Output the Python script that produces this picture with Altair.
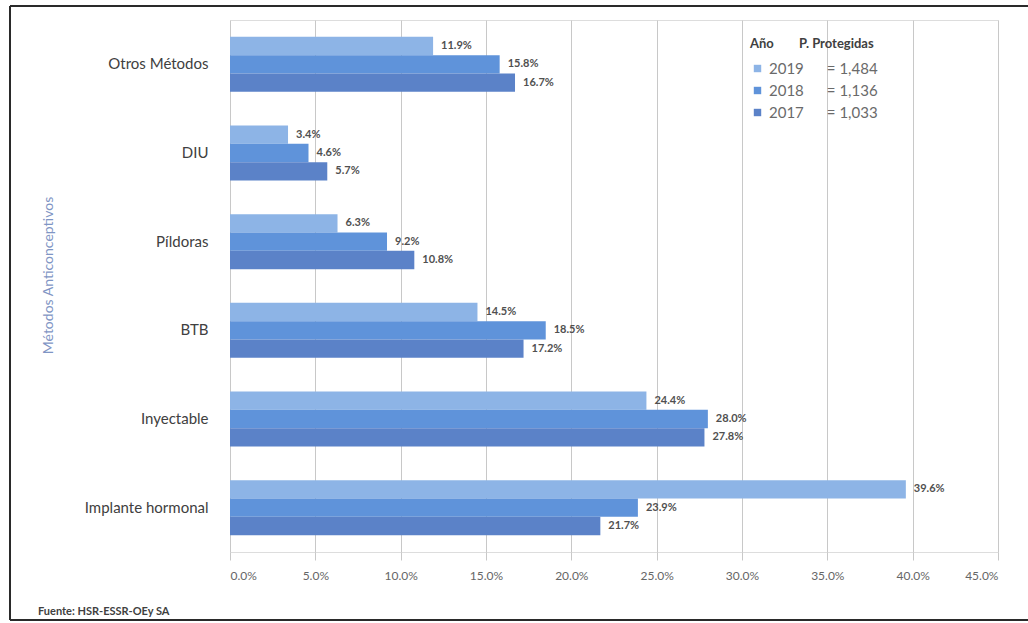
import altair as alt
import pandas as pd

categories = ["Otros Métodos", "DIU", "Píldoras", "BTB", "Inyectable", "Implante hormonal"]
years = ["2019", "2018", "2017"]
protegidas = ["1,484", "1,136", "1,033"]
v2019 = [11.9, 3.4, 6.3, 14.5, 24.4, 39.6]
v2018 = [15.8, 4.6, 9.2, 18.5, 28.0, 23.9]
v2017 = [16.7, 5.7, 10.8, 17.2, 27.8, 21.7]

NB = "\u00a0"
leg_labels = [f"{y}{NB * 6}={NB}{p}" for y, p in zip(years, protegidas)]

rows = []
for lab, vals in zip(leg_labels, [v2019, v2018, v2017]):
    for c, v in zip(categories, vals):
        rows.append({"cat": c, "leg": lab, "pct": v / 100.0})
df = pd.DataFrame(rows)

colors = ["#8db4e6", "#5f93da", "#5b82c8"]
FONT = "Lato"

y_enc = alt.Y("cat:N", sort=categories,
              scale=alt.Scale(paddingInner=0.38, paddingOuter=0.19),
              axis=alt.Axis(title="Métodos Anticonceptivos", titleAngle=-90,
                            titleX=-182, titleY=255, titleAlign="center",
                            titleBaseline="middle",
                            titleFontSize=14, titleFontWeight="normal",
                            titleColor="#7f95c4", titleFont=FONT,
                            labelFontSize=15, labelColor="#404040", labelFont=FONT,
                            labelPadding=22, ticks=False, domain=False, grid=False))
yoff = alt.YOffset("leg:N", sort=leg_labels, scale=alt.Scale(paddingInner=0, paddingOuter=0))
x_enc = alt.X("pct:Q", scale=alt.Scale(domain=[0, 0.45], nice=False),
              axis=alt.Axis(title=None, format=".1%", values=[i * 0.05 for i in range(10)],
                            labelFontSize=12, labelColor="#666666", labelFont=FONT,
                            labelPadding=10, tickSize=8, tickColor="#c8c8c8",
                            domain=False, grid=True, gridColor="#c8c8c8"))

bars = alt.Chart(df).mark_bar().encode(
    y=y_enc, yOffset=yoff, x=x_enc,
    color=alt.Color("leg:N", sort=leg_labels,
                    scale=alt.Scale(domain=leg_labels, range=colors),
                    legend=alt.Legend(title=f"Año{NB * 8}P. Protegidas", orient="none",
                                      legendX=520, legendY=18,
                                      titleFontSize=13, titleFontWeight="bold",
                                      titleColor="#404040", titleFont=FONT,
                                      labelFontSize=15, labelColor="#6a6a6a", labelFont=FONT,
                                      symbolType="square", symbolSize=55,
                                      rowPadding=6, titlePadding=10)),
)

labels = alt.Chart(df).mark_text(align="left", baseline="middle", dx=8,
                                 fontSize=11, fontWeight="bold", color="#505050",
                                 font=FONT).encode(
    y=alt.Y("cat:N", sort=categories), yOffset=alt.YOffset("leg:N", sort=leg_labels),
    x="pct:Q", text=alt.Text("pct:Q", format=".1%"))

border = dict(stroke="#2a2a2a", strokeWidth=2)
left_line = alt.Chart(df).mark_rule(**border).encode(
    x=alt.value(-220), y=alt.value(-14), y2=alt.value(600))
top_line = alt.Chart(df).mark_rule(**border).encode(
    x=alt.value(-220), x2=alt.value(798), y=alt.value(-14))
bottom_line = alt.Chart(df).mark_rule(**border).encode(
    x=alt.value(-220), x2=alt.value(798), y=alt.value(600))

chart = alt.layer(bars, labels, left_line, top_line, bottom_line).properties(
    width=768, height=532,
    autosize=alt.AutoSizeParams(type="none"),
    padding={"left": 230, "top": 20, "right": 30, "bottom": 71},
    title=alt.TitleParams("Fuente: HSR-ESSR-OEy SA", orient="bottom", anchor="start",
                          frame="group", dx=-192, dy=-15, offset=0, fontSize=11,
                          fontWeight="bold", color="#404040", font=FONT),
).configure_view(stroke=None).configure(background="white")

chart.save("out.html", embed_options={"renderer": "svg", "actions": False})
